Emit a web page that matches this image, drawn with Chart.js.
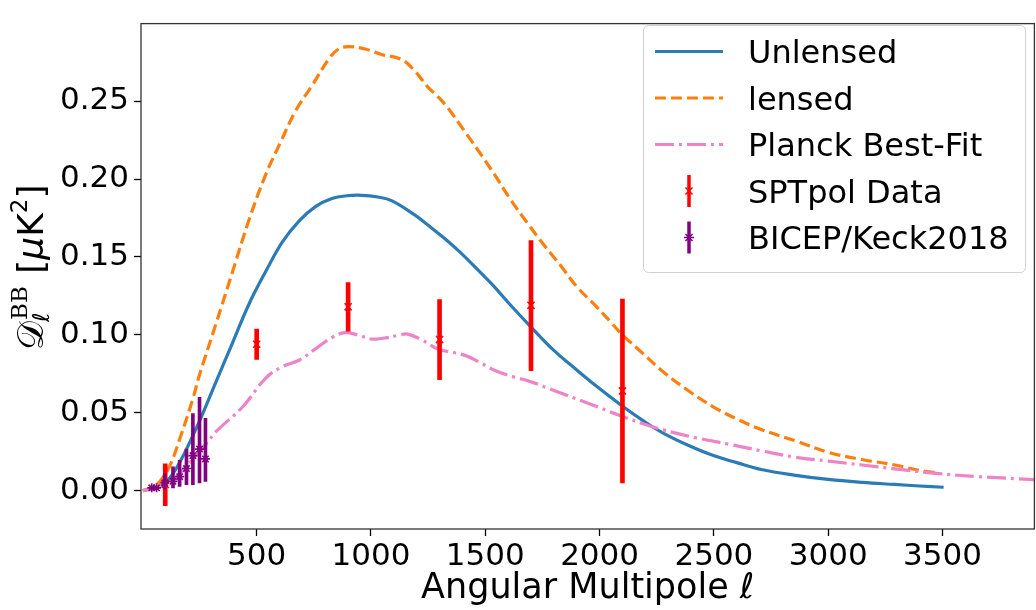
<!DOCTYPE html>
<html>
<head>
<meta charset="utf-8">
<script src="https://cdn.jsdelivr.net/npm/chart.js@4.4.1/dist/chart.umd.min.js"></script>
<style>
  html, body { margin: 0; padding: 0; overflow: hidden; background: #fff; }
  #wrap { position: relative; width: 1041px; height: 610px; }
</style>
</head>
<body>
<div id="wrap"><canvas id="c"></canvas></div>
<script>
// values
var ellUnlensed = [2, 30, 62, 100, 134, 170, 207, 258, 323, 395, 467, 540, 612, 685, 757, 829, 895, 959, 1030, 1090,
  1191, 1249, 1321, 1394, 1466, 1539, 1611, 1697, 1800, 1900, 1987, 2096, 2190, 2278, 2390, 2495, 2600, 2712, 2850, 3000,
  3150, 3291, 3400, 3505];
var unlensed = [0.0, 0.0008, 0.0018, 0.005, 0.011, 0.020, 0.031, 0.0474, 0.0702, 0.0951, 0.120, 0.1408, 0.1595, 0.173, 0.1823, 0.1875, 0.1893, 0.1896, 0.1885, 0.1862,
  0.177, 0.1705, 0.162, 0.1525, 0.142, 0.131, 0.119, 0.1055, 0.090, 0.0775, 0.067, 0.0547, 0.045, 0.037, 0.029, 0.0227, 0.018, 0.0134, 0.010, 0.0072,
  0.0053, 0.004, 0.003, 0.0022];

var ellLensed = [2, 40, 77, 120, 163, 221, 250, 323, 395, 467, 540, 605, 671, 742, 815, 858, 902, 974, 1046, 1133,
  1191, 1249, 1292, 1340, 1408, 1466, 1540, 1610, 1683, 1755, 1827, 1900, 1987, 2044, 2096, 2190, 2278, 2390, 2495, 2600,
  2712, 2856, 3000, 3147, 3291, 3400, 3480];
var lensed = [0.0, 0.002, 0.006, 0.016, 0.033, 0.059, 0.0744, 0.1076, 0.1408, 0.174, 0.203, 0.2238, 0.244, 0.26, 0.277, 0.2835, 0.285, 0.2835, 0.280, 0.2768,
  0.2695, 0.259, 0.253, 0.245, 0.231, 0.219, 0.203, 0.187, 0.172, 0.158, 0.145, 0.131, 0.118, 0.109, 0.1006, 0.088, 0.0763, 0.064, 0.054, 0.046,
  0.039, 0.032, 0.0246, 0.020, 0.0165, 0.013, 0.0115];

var ellPlanck = [2, 33, 80, 134, 207, 279, 323, 438, 540, 612, 685, 757, 829, 887, 940, 1003, 1060, 1119, 1160, 1220,
  1292, 1408, 1480, 1553, 1625, 1697, 1770, 1842, 1987, 2103, 2190, 2278, 2420, 2566, 2710, 2856, 3000, 3147, 3291, 3480,
  3654, 3902];
var planck = [0.0, 0.001, 0.003, 0.007, 0.018, 0.030, 0.038, 0.0537, 0.0723, 0.0796, 0.0837, 0.091, 0.0983, 0.1014, 0.100, 0.0973, 0.098, 0.0997, 0.1005, 0.097,
  0.091, 0.087, 0.082, 0.0765, 0.073, 0.070, 0.066, 0.062, 0.054, 0.0475, 0.043, 0.039, 0.034, 0.0298, 0.0255, 0.0215, 0.019, 0.0165, 0.014, 0.011,
  0.009, 0.0071];

var ellSPT = [100, 500, 900, 1300, 1700, 2100];
var valSPT = [0.004, 0.094, 0.118, 0.097, 0.119, 0.064];
var loSPT  = [-0.0097, 0.0842, 0.1024, 0.0713, 0.077, 0.0049];
var hiSPT  = [0.0173, 0.1037, 0.1336, 0.1226, 0.1605, 0.123];

var ellBK = [41, 62, 98, 134, 163, 193, 221, 250, 276];
var valBK = [0.0018, 0.0018, 0.005, 0.006, 0.009, 0.0142, 0.0225, 0.0267, 0.0204];
var loBK  = [0.0008, 0.0008, 0.001, 0.0018, 0.0028, 0.0039, 0.0039, 0.0049, 0.0059];
var hiBK  = [0.0028, 0.0028, 0.011, 0.0153, 0.0194, 0.0267, 0.0495, 0.0599, 0.0464];

var xTicks = [500, 1000, 1500, 2000, 2500, 3000, 3500];
var yTicks = [0, 0.05, 0.10, 0.15, 0.20, 0.25];

var BLUE = '#2b7bb6', ORANGE = '#ff7f0e', PINK = '#ee84c7', RED = '#ff0000', PURPLE = '#800080';
var FONT = '"DejaVu Sans"';

function pts(xs, ys) { return xs.map(function (x, i) { return { x: x, y: ys[i] }; }); }
function spans(xs, lo, hi) { return xs.map(function (x, i) { return { x: x, y: [lo[i], hi[i]] }; }); }

Chart.defaults.font.family = FONT;
Chart.defaults.color = '#000';

var legendItems = [
  { text: 'Unlensed', kind: 'line', color: BLUE, dash: [] },
  { text: 'lensed', kind: 'line', color: ORANGE, dash: [11, 5] },
  { text: 'Planck Best-Fit', kind: 'line', color: PINK, dash: [19, 5, 3, 5] },
  { text: 'SPTpol Data', kind: 'err', color: RED, marker: 'crossRot' },
  { text: 'BICEP/Keck2018', kind: 'err', color: PURPLE, marker: 'star' }
];

// axes frame (all four spines)
var framePlugin = {
  id: 'frame',
  afterDatasetsDraw: function (chart) {
    var a = chart.chartArea, c = chart.ctx;
    c.save();
    c.strokeStyle = '#333';
    c.lineWidth = 1.3;
    c.strokeRect(a.left, a.top, a.right - a.left, a.bottom - a.top);
    c.restore();
  }
};

// y label with sub/superscripts
var yTitlePlugin = {
  id: 'ytitle',
  afterDraw: function (chart) {
    var c = chart.ctx, x = 0;
    c.save();
    c.translate(43, 350);
    c.rotate(-Math.PI / 2);
    c.fillStyle = '#000';
    c.textBaseline = 'alphabetic';
    function put(txt, font, dy) { c.font = font; c.fillText(txt, x, dy); return c.measureText(txt).width; }
    var w = put('\uD835\uDC9F', '36px ' + FONT, 0);
    var x0 = x + w;
    x = x0 - 1;
    var ws = put('\u2113', 'italic 23px ' + FONT, 6);
    x = x0 + 1;
    var wb = put('BB', '23px "DejaVu Serif"', -16);
    x = x0 + Math.max(ws, wb + 2);
    x += put(' [', '36px ' + FONT, 0);
    x += put('\u03BC', 'italic 36px ' + FONT, 0);
    x += put('K', '36px ' + FONT, 0);
    x += put('2', '23px ' + FONT, -16);
    x += put(']', '36px ' + FONT, 0);
    c.restore();
  }
};

var legendPlugin = {
  id: 'boxlegend',
  afterDraw: function (chart) {
    var c = chart.ctx;
    c.save();
    c.beginPath();
    c.roundRect(643.5, 25.5, 382, 247, 5);
    c.fillStyle = 'rgba(255,255,255,0.8)';
    c.fill();
    c.strokeStyle = '#d0d0d0';
    c.lineWidth = 1;
    c.stroke();
    legendItems.forEach(function (it, i) {
      var cy = 51.5 + i * 46.5;
      if (it.kind === 'line') {
        c.strokeStyle = it.color;
        c.lineWidth = 3.2;
        c.setLineDash(it.dash);
        c.beginPath(); c.moveTo(655, cy); c.lineTo(723, cy); c.stroke();
        c.setLineDash([]);
      } else {
        c.strokeStyle = it.color;
        c.fillStyle = it.color;
        c.lineWidth = 3.5;
        c.beginPath(); c.moveTo(689, cy - 16); c.lineTo(689, cy + 16); c.stroke();
        c.lineWidth = 1.5;
        Chart.helpers.drawPoint(c, { pointStyle: it.marker, radius: 5, rotation: 0, borderWidth: 1.5 }, 689, cy);
      }
      c.fillStyle = '#000';
      c.font = '32px ' + FONT;
      c.textBaseline = 'alphabetic';
      c.fillText(it.text, 748, cy + 11.7);
    });
    c.restore();
  }
};

var tickGrid = { display: true, drawOnChartArea: false, drawTicks: true, tickLength: 7, tickWidth: 1.3, tickColor: '#000', offset: false };

new Chart(document.getElementById('c'), {
  type: 'line',
  data: {
    datasets: [
      { label: 'Unlensed', data: pts(ellUnlensed, unlensed), borderColor: BLUE, borderWidth: 3.2, pointRadius: 0, tension: 0.4, order: 6 },
      { label: 'lensed', data: pts(ellLensed, lensed), borderColor: ORANGE, borderWidth: 3.2, borderDash: [11, 5], pointRadius: 0, tension: 0.4, order: 5 },
      { label: 'Planck Best-Fit', data: pts(ellPlanck, planck), borderColor: PINK, borderWidth: 3.2, borderDash: [19, 5, 3, 5], pointRadius: 0, tension: 0.4, order: 4 },
      { type: 'bar', label: 'SPTpol err', data: spans(ellSPT, loSPT, hiSPT), backgroundColor: RED, barThickness: 4, grouped: false, order: 3 },
      { type: 'bar', label: 'BICEP err', data: spans(ellBK, loBK, hiBK), backgroundColor: PURPLE, barThickness: 3, grouped: false, order: 2 },
      { label: 'SPTpol Data', data: pts(ellSPT, valSPT), showLine: false, pointStyle: 'crossRot', pointRadius: 5, borderColor: RED, backgroundColor: RED, pointBorderWidth: 1.6, order: 1 },
      { label: 'BICEP/Keck2018', data: pts(ellBK, valBK), showLine: false, pointStyle: 'star', pointRadius: 4.5, borderColor: PURPLE, backgroundColor: PURPLE, pointBorderWidth: 1.6, order: 0 }
    ]
  },
  options: {
    animation: false,
    responsive: true,
    maintainAspectRatio: false,
    layout: { padding: { top: 8, left: 0, right: 0, bottom: 0 } },
    plugins: { legend: { display: false }, tooltip: { enabled: false } },
    scales: {
      x: {
        type: 'linear', min: -6, max: 3902, offset: false,
        afterBuildTicks: function (s) { s.ticks = xTicks.map(function (v) { return { value: v }; }); },
        afterFit: function (s) { s.height = 81; },
        grid: tickGrid,
        border: { display: false },
        ticks: { font: { size: 31 }, padding: 2, maxRotation: 0, autoSkip: false, color: '#000',
          callback: function (v) { return String(v); } },
        title: { display: true, text: 'Angular Multipole \u2113', font: { size: 35 }, padding: { top: 0, bottom: 0 }, color: '#000' }
      },
      y: {
        type: 'linear', min: -0.0246, max: 0.2998,
        afterBuildTicks: function (s) { s.ticks = yTicks.map(function (v) { return { value: v }; }); },
        afterFit: function (s) { s.width = 141; },
        grid: tickGrid,
        border: { display: false },
        ticks: { font: { size: 31 }, padding: 5, color: '#000',
          callback: function (v) { return v.toFixed(2); } }
      }
    }
  },
  plugins: [framePlugin, yTitlePlugin, legendPlugin]
});
</script>
</body>
</html>
